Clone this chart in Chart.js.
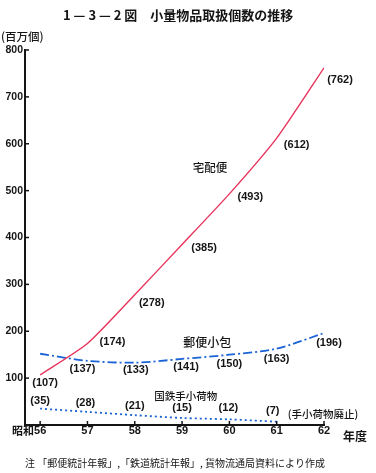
<!DOCTYPE html>
<html><head><meta charset="utf-8">
<script src="https://cdn.jsdelivr.net/npm/chart.js@4/dist/chart.umd.min.js"></script>
<style>html,body{margin:0;padding:0;background:#fff;}#wrap{width:376px;height:473px;position:relative}canvas{display:block}</style>
</head><body><div id="wrap"><canvas id="c" width="376" height="473"></canvas></div>
<script>
// ---- data ----
const years = [56, 57, 58, 59, 60, 61, 62];
const yearLabels = ['昭和56', '57', '58', '59', '60', '61', '62'];
const takuhaibin = [107, 174, 278, 385, 493, 612, 762];          // 宅配便
const yubinKozutsumi = [152, 137, 133, 141, 150, 163, 196];      // 郵便小包
const yubinKozutsumiLabels = [null, 137, 133, 141, 150, 163, 196];
const kokutetsuYears = [56, 57, 58, 59, 60, 61];
const kokutetsu = [35, 28, 21, 15, 12, 7];                       // 国鉄手小荷物
const yTickValues = [100, 200, 300, 400, 500, 600, 700, 800];
const seriesNames = ['宅配便', '郵便小包', '国鉄手小荷物'];
const titleText = '1 — 3 — 2 図　小量物品取扱個数の推移';
const unitText = '(百万個)';
const xAxisName = '年度';
const endNote = '(手小荷物廃止)';
const noteText = '注 「郵便統計年報」,「鉄道統計年報」, 貨物流通局資料により作成';

const RED = '#e8345c';
const BLUE = '#1a63d6';
const INK = '#151515';
const NUM_FONT = 'bold 11px "Liberation Sans", Arial, sans-serif';
const CJK = '"Noto Sans CJK JP", sans-serif';

const pts = (xs, ys) => xs.map((x, i) => ({x, y: ys[i]}));

const labelCfg = [
  {ds: 0, values: takuhaibin, off: [[5,8],[25,-1],[17,8],[22,3],[21,3],[20,7],[16,12]]},
  {ds: 1, values: yubinKozutsumiLabels, off: [null,[-5,8],[1,7],[4,8],[0,9],[0,10],[5,10]]},
  {ds: 2, values: kokutetsu, off: [[0,-8],[-2,-9],[0,-9],[0,-10],[-1,-11],[-4,-11]]}
];
const nameCfg = [
  {text: seriesNames[0], x: 59.59, y: 550, font: '500 11.5px ' + CJK},
  {text: seriesNames[1], x: 59.53, y: 177, font: '500 12px ' + CJK},
  {text: seriesNames[2], x: 59.08, y: 62, font: '500 10.5px ' + CJK},
  {text: endNote, x: 61.98, y: 23.5, font: '500 10.5px ' + CJK}
];

const deco = {
  id: 'deco',
  afterDraw(chart) {
    const ctx = chart.ctx, xs = chart.scales.x, ys = chart.scales.y, a = chart.chartArea;
    ctx.save();
    ctx.fillStyle = INK; ctx.strokeStyle = INK;
    // title
    ctx.font = 'bold 13px ' + CJK; ctx.textAlign = 'left'; ctx.textBaseline = 'middle';
    ctx.fillText(titleText, 63, 15);
    ctx.font = '500 11.5px ' + CJK;
    ctx.fillText(unitText, 1, 37);
    // y inner ticks
    ctx.lineWidth = 1.5;
    yTickValues.forEach(v => {
      const py = ys.getPixelForValue(v);
      ctx.beginPath(); ctx.moveTo(a.left, py); ctx.lineTo(a.left + 4, py); ctx.stroke();
    });
    // x ticks and labels
    years.forEach((yr, i) => {
      const px = xs.getPixelForValue(yr);
      ctx.beginPath(); ctx.moveTo(px, a.bottom); ctx.lineTo(px, a.bottom - 4); ctx.stroke();
      const lab = yearLabels[i];
      ctx.textBaseline = 'middle';
      if (lab.length > 2) {
        ctx.font = NUM_FONT;
        const num = lab.slice(2);
        const numW = ctx.measureText(num).width;
        ctx.textAlign = 'left';
        ctx.fillText(num, px - numW / 2, 431);
        ctx.font = 'bold 11px ' + CJK; ctx.textAlign = 'right';
        ctx.fillText(lab.slice(0, 2), px - numW / 2, 431);
      } else {
        ctx.font = NUM_FONT; ctx.textAlign = 'center';
        ctx.fillText(lab, px, 431);
      }
    });
    ctx.font = 'bold 12px ' + CJK; ctx.textAlign = 'left';
    ctx.fillText(xAxisName, 343, 436);
    // note
    ctx.font = '10px ' + CJK;
    ctx.fillText(noteText, 25, 463);
    // series names
    ctx.textAlign = 'center';
    nameCfg.forEach(n => {
      ctx.font = n.font;
      ctx.fillText(n.text, xs.getPixelForValue(n.x), ys.getPixelForValue(n.y));
    });
    // data labels
    ctx.font = NUM_FONT; ctx.textAlign = 'center';
    labelCfg.forEach(c => {
      const meta = chart.getDatasetMeta(c.ds);
      meta.data.forEach((el, i) => {
        const v = c.values[i];
        if (v == null || !c.off[i]) return;
        ctx.fillText('(' + v + ')', el.x + c.off[i][0], el.y + c.off[i][1]);
      });
    });
    ctx.restore();
  }
};

Chart.defaults.font.family = '"Liberation Sans", Arial, sans-serif';
new Chart(document.getElementById('c'), {
  type: 'line',
  data: {
    datasets: [
      {label: seriesNames[0], data: pts(years, takuhaibin), borderColor: RED, borderWidth: 1.4, tension: 0.2, pointRadius: 0},
      {label: seriesNames[1], data: pts(years, yubinKozutsumi), borderColor: BLUE, borderWidth: 1.8, borderDash: [9, 3, 2, 3], tension: 0.3, pointRadius: 0},
      {label: seriesNames[2], data: pts(kokutetsuYears, kokutetsu), borderColor: BLUE, borderWidth: 1.8, borderDash: [2, 3], tension: 0.3, pointRadius: 0}
    ]
  },
  options: {
    responsive: false, animation: false, devicePixelRatio: 1,
    layout: {padding: {left: 0, right: 52, top: 50, bottom: 0}},
    plugins: {legend: {display: false}, tooltip: {enabled: false}, title: {display: false}},
    scales: {
      x: {
        type: 'linear', min: 55.68, max: 62,
        ticks: {display: false},
        grid: {display: false},
        border: {display: true, color: INK, width: 2},
        afterFit: s => { s.height = 48; }
      },
      y: {
        min: 0, max: 800,
        ticks: {stepSize: 100, padding: 2, color: INK, font: {size: 10.5, weight: 'bold'},
          callback: v => yTickValues.includes(v) ? String(v) : ''},
        grid: {display: false, drawTicks: false},
        border: {display: true, color: INK, width: 2},
        afterFit: s => { s.width = 25; }
      }
    }
  },
  plugins: [deco]
});
</script></body></html>
